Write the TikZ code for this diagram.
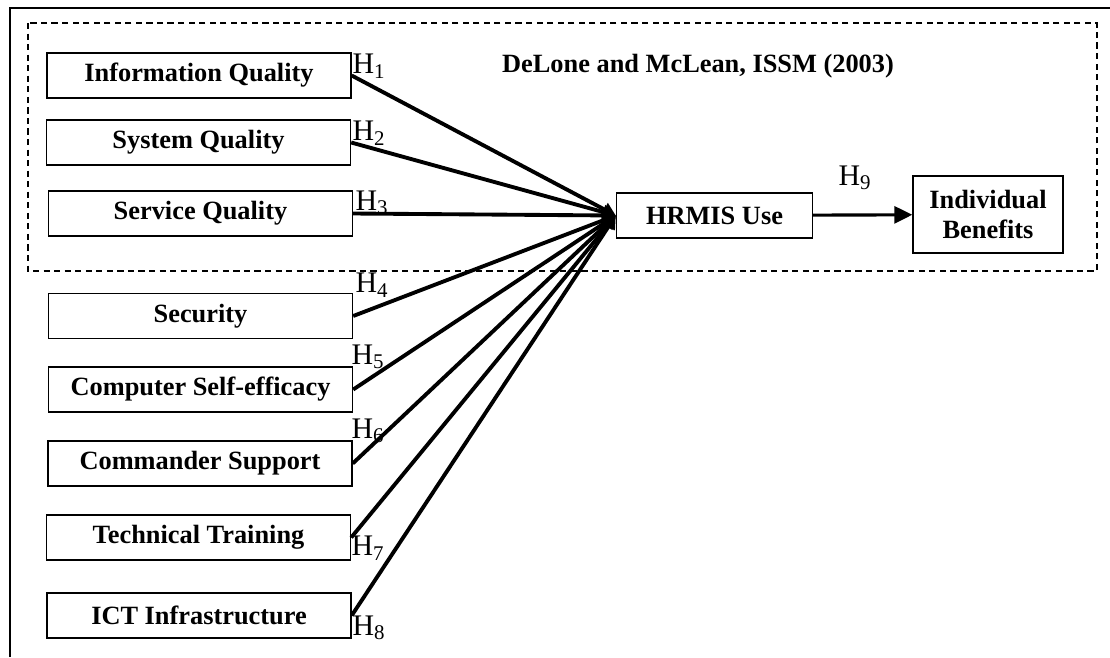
\documentclass[tikz,border=0pt]{standalone}
\usepackage{fontspec}
\setmainfont{Liberation Serif}
\usepackage{tikz}
\usetikzlibrary{calc, arrows.meta}

\begin{document}
\begin{tikzpicture}[x=0.2mm, y=-0.2mm,
  caixa/.style={draw, line width=0.8pt, inner sep=0pt, minimum width=60.8mm, minimum height=9mm, font=\fontsize{15}{17}\selectfont\bfseries},
  hip/.style={font=\fontsize{17}{19}\selectfont, inner sep=0pt},
  seta/.style={-{Triangle[length=2.6mm, width=2.8mm]}, line width=2.2pt}]
\useasboundingbox (0,0) rectangle (1110,657);
% Moldura
\draw[line width=1.1pt] (10,657) -- (10,8) -- (1110,8);
\draw[dashed, line width=0.7pt, dash pattern=on 3.5pt off 2.5pt] (28,23) rectangle (1097,271);
\node[font=\fontsize{15}{17}\selectfont\bfseries] (titulo) at (698,66) {DeLone and McLean, ISSM (2003)};
% Construtos
\node[caixa] (iq) at (199,75.5) {Information Quality};
\node[caixa] (sq) at (198.5,142.5) {System Quality};
\node[caixa] (svq) at (200.5,213.5) {Service Quality};
\node[caixa] (sec) at (200.5,316) {Security};
\node[caixa] (cse) at (200.5,389.5) {Computer Self-efficacy};
\node[caixa] (cms) at (200,463.5) {Commander Support};
\node[caixa] (tt) at (198.5,537.5) {Technical Training};
\node[caixa] (ict) at (199,615.5) {ICT Infrastructure};
\node[caixa, minimum width=39.2mm] (uso) at (714.5,215.5) {HRMIS Use};
\node[caixa, minimum width=30mm, minimum height=15.4mm, align=center] (ben) at (988,214.5) {Individual\\Benefits};
% Setas
\foreach \c in {iq, sq, svq, sec, cse, cms, tt, ict}
  \draw[seta] (\c.east) -- (uso.west);
\draw[-{Triangle[length=3.6mm, width=3.4mm]}, line width=1.8pt] (uso) -- (ben);
% Hipoteses
\node[hip] (h1) at (369,66) {H\textsubscript{1}};
\node[hip] (h2) at (369,133) {H\textsubscript{2}};
\node[hip] (h3) at (372,203) {H\textsubscript{3}};
\node[hip] (h4) at (372,285) {H\textsubscript{4}};
\node[hip] (h5) at (368,357) {H\textsubscript{5}};
\node[hip] (h6) at (368,431) {H\textsubscript{6}};
\node[hip] (h7) at (368,548) {H\textsubscript{7}};
\node[hip] (h8) at (369,628) {H\textsubscript{8}};
\node[hip] (h9) at (855,178) {H\textsubscript{9}};
\end{tikzpicture}
\end{document}
